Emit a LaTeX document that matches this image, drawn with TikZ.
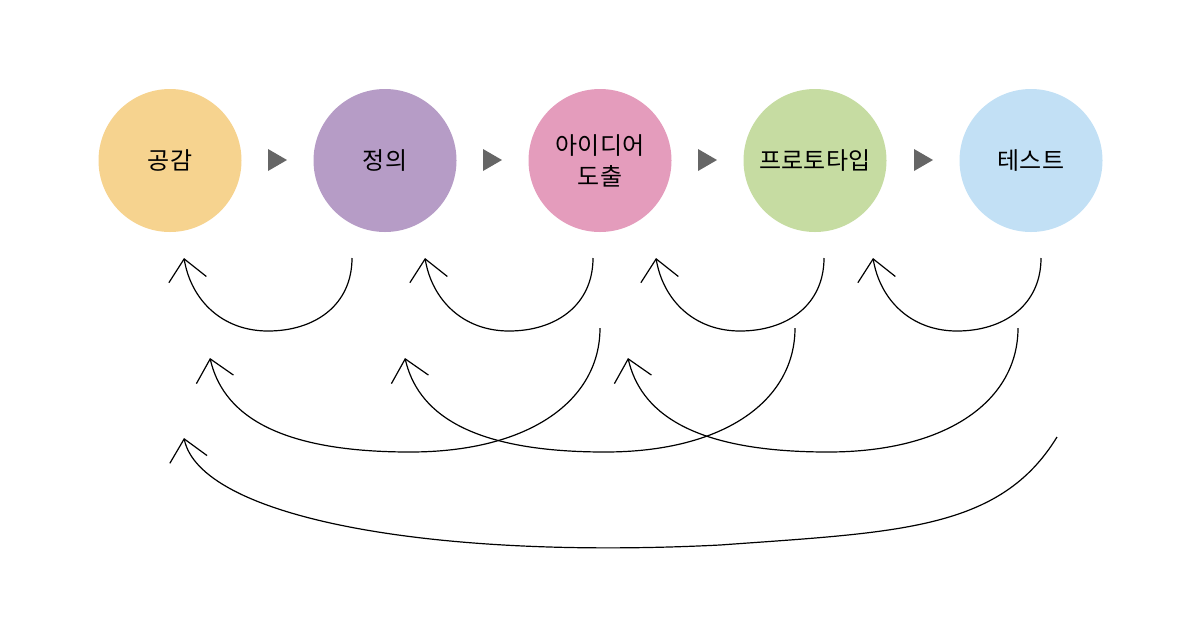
\documentclass[tikz,border=0pt]{standalone}
\usepackage{fontspec}
\setmainfont{Noto Sans CJK KR}
\usetikzlibrary{arrows.meta}
\definecolor{cEmp}{HTML}{F6D38F}
\definecolor{cDef}{HTML}{B69CC6}
\definecolor{cIde}{HTML}{E49CBC}
\definecolor{cPro}{HTML}{C6DCA2}
\definecolor{cTes}{HTML}{C2E0F5}
\definecolor{triGray}{HTML}{666666}
\begin{document}
\begin{tikzpicture}[x=1pt,y=-1pt,
  stage/.style={circle,minimum size=143pt,inner sep=0pt,align=center,
    font=\fontsize{24}{31}\selectfont},
  back/.style={line width=1.2pt,-{Straight Barb[length=21pt,width=38pt]}},
  tri/.style={fill=triGray}]
\useasboundingbox (0,0) rectangle (1204,641);
% stages
\node[stage,fill=cEmp] (s1) at (170,160.5) {공감};
\node[stage,fill=cDef] (s2) at (385,160.5) {정의};
\node[stage,fill=cIde] (s3) at (600,160.5) {아이디어\\도출};
\node[stage,fill=cPro] (s4) at (815,160.5) {프로토타입};
\node[stage,fill=cTes] (s5) at (1031,160.5) {테스트};
% forward triangles
\foreach \x in {268,483,698,914}
  \fill[tri] (\x,149) -- (\x+19,160) -- (\x,171) -- cycle;
% short return arcs
\foreach \o [count=\i] in {0,241,472,689}{
  \coordinate (as\i) at (352+\o,258);
  \coordinate (at\i) at (184+\o,258);
  \draw[back] (as\i) .. controls ++(0,47) and ++(47,0) .. ([xshift=-84pt,yshift=-73pt]as\i)
     .. controls ++(-46,0) and ([xshift=7pt,yshift=-42pt]at\i) .. (at\i);
}
% medium return arcs
\foreach \o [count=\i] in {0,195,418}{
  \coordinate (bs\i) at (600+\o,328);
  \coordinate (bt\i) at (210+\o,358);
  \draw[back] (bs\i) .. controls ++(0,72) and ++(120,0) .. ([xshift=-190pt,yshift=-124pt]bs\i)
     .. controls ++(-140,0) and ([xshift=12pt,yshift=-52pt]bt\i) .. (bt\i);
}
% long return arc
\coordinate (cs) at (1057,437);
\coordinate (ct) at (184,438);
\draw[back] (cs) .. controls (1000,530) and (900,532) .. (720,545)
   .. controls (420,560) and (200,515) .. (ct);
\end{tikzpicture}
\end{document}
